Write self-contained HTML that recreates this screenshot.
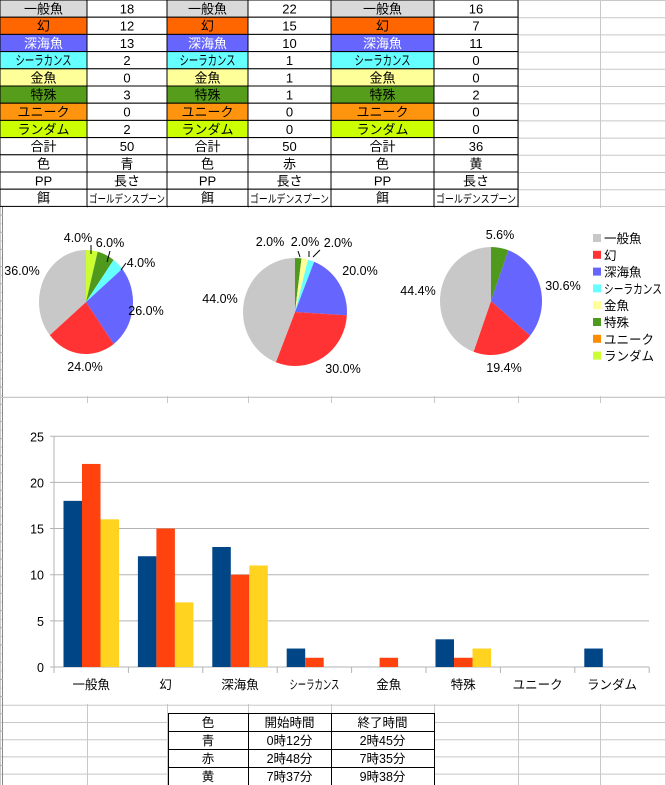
<!DOCTYPE html>
<html><head><meta charset="utf-8"><style>
body{margin:0;background:#fff;}
svg{display:block;font-family:"Liberation Sans","Noto Sans CJK JP",sans-serif;}
</style></head><body>
<svg id="s" width="665" height="785" xmlns="http://www.w3.org/2000/svg">
<rect width="665" height="785" fill="#fff"/>
<g id="grid" stroke="#c8c8c8" stroke-width="1"></g>
<g id="top"></g>
<g id="pies"></g>
<g id="bars"></g>
<g id="bot"></g>
</svg>
<script>
const NS="http://www.w3.org/2000/svg";
function el(p,t,a,txt){const e=document.createElementNS(NS,t);for(const k in a){if(a[k]!=='')e.setAttribute(k,a[k]);}if(txt!==undefined)e.textContent=txt;p.appendChild(e);return e;}
const G=document.getElementById('grid'),T=document.getElementById('top'),P=document.getElementById('pies'),B=document.getElementById('bars'),BT=document.getElementById('bot');
const cols=[0,87,167,248,331,434,518,600,665];
for(let y=206;y<785;y+=17.2){el(G,'line',{x1:0,x2:665,y1:y+0.5,y2:y+0.5});}
for(const x of cols){el(G,'line',{x1:x+0.5,x2:x+0.5,y1:0,y2:785});}
for(let y=0;y<206;y+=17.2){el(G,'line',{x1:518,x2:665,y1:y+0.5,y2:y+0.5});}
el(G,'rect',{x:3,y:208,width:662,height:188,fill:'#fff',stroke:'none'});
el(G,'rect',{x:3,y:402,width:662,height:302,fill:'#fff',stroke:'none'});
el(G,'line',{x1:2.5,x2:2.5,y1:206,y2:785,stroke:'#888'});
for(let y=215;y<780;y+=17.2){el(G,'line',{x1:0,x2:3,y1:y,y2:y,stroke:'#aaa'});}
el(G,'line',{x1:0,x2:665,y1:397.5,y2:397.5,stroke:'#c8c8c8'});
for(const x of [87,167,248,331,434,518,600]) el(G,'line',{x1:x+.5,x2:x+.5,y1:397,y2:403,stroke:'#c8c8c8'});
const names=['一般魚','幻','深海魚','シーラカンス','金魚','特殊','ユニーク','ランダム','合計','色','PP','餌'];
const bg=['#d9d9d9','#ff6600','#6666ff','#66ffff','#ffff99','#579d1c','#ff950e','#ccff00','#fff','#fff','#fff','#fff'];
const fg=['#000','#000','#fff','#000','#000','#000','#000','#000','#000','#000','#000','#000'];
const vals=[[18,12,13,2,0,3,0,2,50,'青','長さ','ゴールデンスプーン'],[22,15,10,1,1,1,0,0,50,'赤','長さ','ゴールデンスプーン'],[16,7,11,0,0,2,0,0,36,'黄','長さ','ゴールデンスプーン']];
const rh=17.2;
for(let c=0;c<3;c++){const x0=cols[c*2],x1=cols[c*2+1],x2=cols[c*2+2];
 for(let r=0;r<12;r++){const y=r*rh;
  el(T,'rect',{x:x0,y:y,width:x1-x0,height:rh,fill:bg[r],stroke:'#000','stroke-width':1});
  el(T,'rect',{x:x1,y:y,width:x2-x1,height:rh,fill:'#fff',stroke:'#000','stroke-width':1});
  el(T,'text',{x:(x0+x1)/2,y:y+13.5,'text-anchor':'middle','font-size':13,fill:fg[r],textLength:r==3?56:'',lengthAdjust:'spacingAndGlyphs'},names[r]);
  const v=vals[c][r];const sm=(r==11);
  el(T,'text',{x:(x1+x2)/2,y:y+13.5,'text-anchor':'middle','font-size':sm?11:13,fill:'#000',textLength:sm?(x2-x1-4):'',lengthAdjust:'spacingAndGlyphs'},v);
 }}
const pc=['#c8c8c8','#ff3333','#6666ff','#66ffff','#ffff99','#4f9a1c','#ff8c00','#ccff33'];
const pies=[{cx:86,cy:302,rx:47,ry:52,v:vals[0]},{cx:295,cy:312,rx:52,ry:54,v:vals[1]},{cx:491,cy:301,rx:51,ry:54,v:vals[2]}];
for(const p of pies){const v=p.v.slice(0,8);const tot=v.reduce((a,b)=>a+b,0);let a=0;
 for(let i=7;i>=0;i--){if(!v[i])continue;const a0=a,a1=a+v[i]/tot*2*Math.PI;a=a1;
  const x0=p.cx+p.rx*Math.sin(a0),y0=p.cy-p.ry*Math.cos(a0),x1=p.cx+p.rx*Math.sin(a1),y1=p.cy-p.ry*Math.cos(a1);
  el(P,'path',{d:`M${p.cx},${p.cy}L${x0},${y0}A${p.rx},${p.ry} 0 ${a1-a0>Math.PI?1:0} 1 ${x1},${y1}Z`,fill:pc[i]});}}
const labs=[[78,242,'4.0%'],[110,247,'6.0%'],[141,267,'4.0%'],[146,315,'26.0%'],[85,371,'24.0%'],[22,275,'36.0%'],
[270,246,'2.0%'],[305,246,'2.0%'],[338,247,'2.0%'],[360,275,'20.0%'],[343,373,'30.0%'],[220,303,'44.0%'],
[500,239,'5.6%'],[563,290,'30.6%'],[504,372,'19.4%'],[418,295,'44.4%']];
for(const l of labs) el(P,'text',{x:l[0],y:l[1],'text-anchor':'middle','font-size':12.5,fill:'#000'},l[2]);
el(P,'path',{d:'M91,245L91,254M110,251L107,262M126,263L121,270M298,251L300,257M309,251L309,257M320,250L313,257',stroke:'#000',fill:'none','stroke-width':1});
for(let i=0;i<8;i++){const y=238+i*16.8;el(P,'rect',{x:593,y:y-4,width:8,height:8,fill:pc[i]});
 el(P,'text',{x:604,y:y+5,'font-size':12.5,fill:'#000',textLength:i==3?58:'',lengthAdjust:'spacingAndGlyphs'},names[i]);}
const x0=54,y0=667,u=9.23,cw=74.4;
for(let k=0;k<=25;k+=5){const y=y0-k*u;el(B,'line',{x1:x0-4,x2:649,y1:y,y2:y,stroke:'#b3b3b3'});
 el(B,'text',{x:44,y:y+5,'text-anchor':'end','font-size':12.5},k);}
el(B,'line',{x1:x0,x2:x0,y1:436,y2:667,stroke:'#b3b3b3'});
const bc=['#004586','#ff420e','#ffd320'];
for(let i=0;i<8;i++){const gx=x0+i*cw+9.5;
 for(let s=0;s<3;s++){const v=vals[s][i];if(v)el(B,'rect',{x:gx+s*18.5,y:y0-v*u,width:18.5,height:v*u,fill:bc[s]});}
 el(B,'text',{x:x0+i*cw+cw/2,y:689,'text-anchor':'middle','font-size':12.5,textLength:i==3?50:'',lengthAdjust:'spacingAndGlyphs'},names[i]);}
for(let i=0;i<=8;i++){const x=x0+i*cw;el(B,'line',{x1:x,x2:x,y1:667,y2:673,stroke:'#b3b3b3'});}
const bcx=[168,248,331,434];const rows=[['色','開始時間','終了時間'],['青','0時12分','2時45分'],['赤','2時48分','7時35分'],['黄','7時37分','9時38分']];
for(let r=0;r<4;r++){const y=713+r*18;for(let c=0;c<3;c++){
 el(BT,'rect',{x:bcx[c]+.5,y:y+.5,width:bcx[c+1]-bcx[c],height:18,fill:'#fff',stroke:'#000'});
 el(BT,'text',{x:(bcx[c]+bcx[c+1])/2,y:y+14,'text-anchor':'middle','font-size':12.5},rows[r][c]);}}
</script>
</body></html>
